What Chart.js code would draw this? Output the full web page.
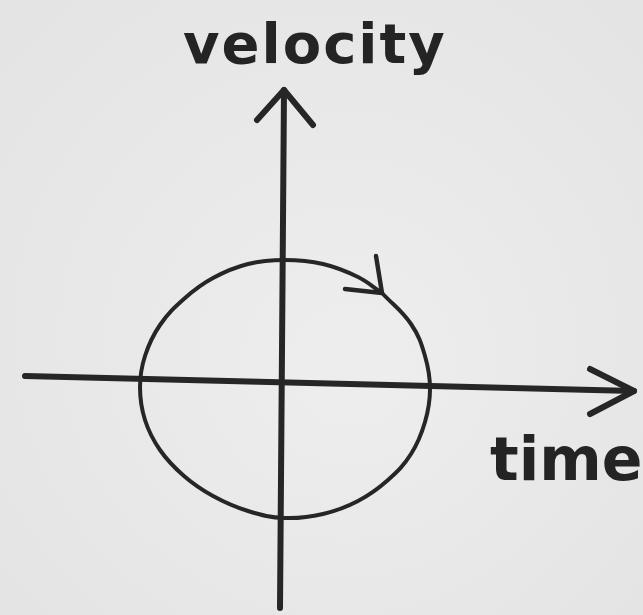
<!DOCTYPE html>
<html>
<head>
<meta charset="utf-8">
<title>velocity / time</title>
<script src="https://cdn.jsdelivr.net/npm/chart.js@4/dist/chart.umd.min.js"></script>
<style>
  html, body { margin: 0; padding: 0; background: #e8e8e8; }
  #wrap { width: 643px; height: 615px; position: relative; }
</style>
</head>
<body>
<div id="wrap"><canvas id="c"></canvas></div>
<script>
// Axis labels
const axisLabels = ['velocity', 'time'];

// Time axis: line from the left end to the arrow tip, then the arrowhead
const timeAxis = [[-2.58, 0.04], [3.51, -0.11]];
const timeArrow = [[3.07, 0.11], [3.51, -0.11], [3.07, -0.34]];

// Velocity axis: bottom end up to the arrow tip, then the arrowhead
const velocityAxis = [[-0.03, -2.28], [0.01, 2.90]];
const velocityArrow = [[-0.26, 2.60], [0.01, 2.90], [0.30, 2.55]];

// Closed loop traced clockwise, starting and ending at the direction arrow
const loopTime = [0.99, 1.28, 1.42, 1.47, 1.42, 1.28, 1.05, 0.75, 0.40, 0.02, -0.35, -0.70,
  -0.99, -1.23, -1.38, -1.43, -1.38, -1.23, -0.98, -0.70, -0.35, 0.02, 0.40, 0.75, 0.99];
const loopVelocity = [0.87, 0.56, 0.24, -0.09, -0.42, -0.74, -1.00, -1.21, -1.34, -1.38, -1.31, -1.16,
  -0.96, -0.70, -0.40, -0.07, 0.24, 0.55, 0.82, 1.02, 1.16, 1.20, 1.16, 1.03, 0.87];

// Direction arrow on the loop
const loopArrow = [[0.62, 0.91], [0.99, 0.87], [0.93, 1.24]];

const ink = '#262626';
const toXY = pts => pts.map(p => ({ x: p[0], y: p[1] }));

function lineSet(data, width, tension) {
  return {
    data: data,
    showLine: true,
    borderColor: ink,
    borderWidth: width,
    pointRadius: 0,
    pointHoverRadius: 0,
    tension: tension,
    borderCapStyle: 'round',
    borderJoinStyle: 'round',
    fill: false,
    clip: false
  };
}

const paperPlugin = {
  id: 'paper',
  beforeDraw(chart) {
    const { ctx, width, height } = chart;
    ctx.save();
    const g = ctx.createRadialGradient(width * 0.55, height * 0.6, 40, width * 0.5, height * 0.5, width * 0.8);
    g.addColorStop(0, '#ededed');
    g.addColorStop(1, '#e2e2e2');
    ctx.fillStyle = g;
    ctx.fillRect(0, 0, width, height);
    ctx.restore();
  }
};

const labelPlugin = {
  id: 'axisLabels',
  afterDraw(chart) {
    const { ctx } = chart;
    ctx.save();
    ctx.fillStyle = '#242424';
    ctx.textBaseline = 'alphabetic';
    ctx.textAlign = 'left';
    ctx.font = 'bold 56px "DejaVu Sans"';
    if ('letterSpacing' in ctx) ctx.letterSpacing = '2px';
    ctx.fillText(axisLabels[0], 183, 63);
    if ('letterSpacing' in ctx) ctx.letterSpacing = '0px';
    ctx.font = 'bold 60px "DejaVu Sans"';
    ctx.fillText(axisLabels[1], 490, 480);
    ctx.restore();
  }
};

const loopPoints = loopTime.map((t, i) => ({ x: t, y: loopVelocity[i] }));

new Chart(document.getElementById('c'), {
  type: 'scatter',
  data: {
    datasets: [
      lineSet(loopPoints, 4, 0.4),
      lineSet(toXY(loopArrow), 4.5, 0),
      lineSet(toXY(timeAxis), 6, 0),
      lineSet(toXY(timeArrow), 6, 0),
      lineSet(toXY(velocityAxis), 6, 0),
      lineSet(toXY(velocityArrow), 6, 0)
    ]
  },
  options: {
    responsive: true,
    maintainAspectRatio: false,
    devicePixelRatio: 1,
    animation: false,
    layout: { padding: 0 },
    plugins: {
      legend: { display: false },
      tooltip: { enabled: false },
      title: { display: false }
    },
    events: [],
    scales: {
      x: { type: 'linear', min: -2.83, max: 3.60, display: false },
      y: { type: 'linear', min: -2.35, max: 3.80, display: false }
    }
  },
  plugins: [paperPlugin, labelPlugin]
});
</script>
</body>
</html>
